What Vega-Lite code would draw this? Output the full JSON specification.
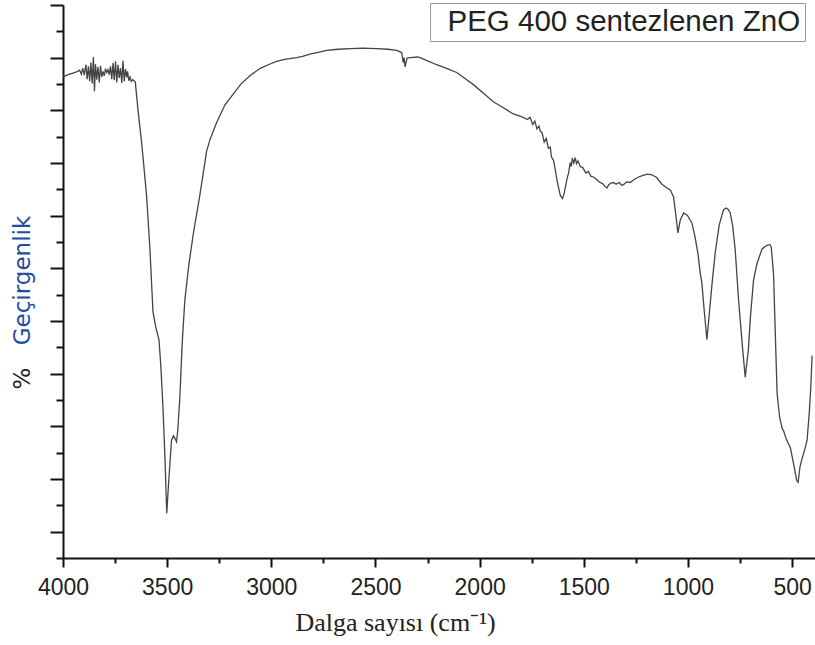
{
  "$schema": "https://vega.github.io/schema/vega-lite/v6.json",
  "autosize": {"type": "none"},
  "padding": {"left": 63, "top": 5, "right": 0, "bottom": 87},
  "width": 752,
  "height": 553,
  "background": "white",
  "config": {"view": {"stroke": null}},
  "data": {
    "values": [
      {"wn": 4000, "t": 87.0}, {"wn": 3975, "t": 87.4}, {"wn": 3952, "t": 87.7}, {"wn": 3935, "t": 87.9},
      {"wn": 3920, "t": 88.2}, {"wn": 3912, "t": 87.5}, {"wn": 3905, "t": 88.6}, {"wn": 3898, "t": 87.3},
      {"wn": 3890, "t": 89.2}, {"wn": 3884, "t": 86.6}, {"wn": 3878, "t": 88.9}, {"wn": 3872, "t": 86.2},
      {"wn": 3866, "t": 89.6}, {"wn": 3860, "t": 85.8}, {"wn": 3854, "t": 90.6}, {"wn": 3849, "t": 84.4},
      {"wn": 3844, "t": 89.3}, {"wn": 3838, "t": 86.5}, {"wn": 3832, "t": 88.8}, {"wn": 3826, "t": 86.0},
      {"wn": 3820, "t": 89.0}, {"wn": 3814, "t": 87.0}, {"wn": 3808, "t": 88.0}, {"wn": 3802, "t": 87.2},
      {"wn": 3796, "t": 88.5}, {"wn": 3790, "t": 87.8}, {"wn": 3784, "t": 88.3}, {"wn": 3778, "t": 87.4},
      {"wn": 3772, "t": 88.9}, {"wn": 3766, "t": 86.6}, {"wn": 3760, "t": 89.5}, {"wn": 3754, "t": 86.4},
      {"wn": 3748, "t": 89.8}, {"wn": 3742, "t": 86.0}, {"wn": 3736, "t": 89.2}, {"wn": 3730, "t": 86.8},
      {"wn": 3724, "t": 88.6}, {"wn": 3718, "t": 85.9}, {"wn": 3712, "t": 89.9}, {"wn": 3706, "t": 86.2},
      {"wn": 3700, "t": 88.4}, {"wn": 3694, "t": 86.9}, {"wn": 3690, "t": 88.0}, {"wn": 3684, "t": 86.3},
      {"wn": 3678, "t": 87.0}, {"wn": 3672, "t": 86.2}, {"wn": 3665, "t": 86.5}, {"wn": 3653, "t": 86.1},
      {"wn": 3640, "t": 81.0}, {"wn": 3623, "t": 75.3}, {"wn": 3611, "t": 70.5}, {"wn": 3599, "t": 65.6},
      {"wn": 3583, "t": 56.1}, {"wn": 3568, "t": 44.5}, {"wn": 3555, "t": 41.8}, {"wn": 3539, "t": 39.4},
      {"wn": 3530, "t": 34.5}, {"wn": 3520, "t": 27.2}, {"wn": 3510, "t": 17.5}, {"wn": 3502, "t": 8.1},
      {"wn": 3492, "t": 14.1}, {"wn": 3479, "t": 21.3}, {"wn": 3470, "t": 22.1}, {"wn": 3462, "t": 21.6},
      {"wn": 3455, "t": 21.0}, {"wn": 3449, "t": 23.1}, {"wn": 3439, "t": 29.1}, {"wn": 3427, "t": 39.4},
      {"wn": 3415, "t": 46.7}, {"wn": 3396, "t": 53.0}, {"wn": 3375, "t": 58.5}, {"wn": 3343, "t": 65.6},
      {"wn": 3311, "t": 73.5}, {"wn": 3295, "t": 75.6}, {"wn": 3263, "t": 78.7}, {"wn": 3223, "t": 81.9},
      {"wn": 3183, "t": 83.9}, {"wn": 3146, "t": 85.7}, {"wn": 3103, "t": 87.2}, {"wn": 3055, "t": 88.5},
      {"wn": 3015, "t": 89.2}, {"wn": 2975, "t": 89.8}, {"wn": 2930, "t": 90.2}, {"wn": 2879, "t": 90.5},
      {"wn": 2850, "t": 90.7}, {"wn": 2815, "t": 91.1}, {"wn": 2780, "t": 91.4}, {"wn": 2734, "t": 91.8},
      {"wn": 2680, "t": 92.0}, {"wn": 2622, "t": 92.1}, {"wn": 2560, "t": 92.2}, {"wn": 2494, "t": 92.1},
      {"wn": 2440, "t": 92.0}, {"wn": 2398, "t": 91.8}, {"wn": 2374, "t": 91.4}, {"wn": 2367, "t": 89.6},
      {"wn": 2362, "t": 90.5}, {"wn": 2358, "t": 88.8}, {"wn": 2348, "t": 90.4}, {"wn": 2330, "t": 90.5},
      {"wn": 2300, "t": 90.6}, {"wn": 2286, "t": 90.5}, {"wn": 2250, "t": 89.9}, {"wn": 2206, "t": 89.2},
      {"wn": 2190, "t": 89.0}, {"wn": 2150, "t": 88.4}, {"wn": 2110, "t": 87.8}, {"wn": 2070, "t": 86.7},
      {"wn": 2030, "t": 85.6}, {"wn": 1980, "t": 84.0}, {"wn": 1934, "t": 82.5}, {"wn": 1890, "t": 81.5},
      {"wn": 1838, "t": 80.3}, {"wn": 1800, "t": 79.8}, {"wn": 1770, "t": 79.3}, {"wn": 1758, "t": 79.7},
      {"wn": 1745, "t": 78.4}, {"wn": 1735, "t": 79.0}, {"wn": 1725, "t": 77.6}, {"wn": 1715, "t": 78.1},
      {"wn": 1709, "t": 77.2}, {"wn": 1700, "t": 76.9}, {"wn": 1690, "t": 75.2}, {"wn": 1680, "t": 75.9},
      {"wn": 1670, "t": 74.1}, {"wn": 1661, "t": 74.3}, {"wn": 1655, "t": 72.5}, {"wn": 1646, "t": 72.0},
      {"wn": 1638, "t": 70.5}, {"wn": 1629, "t": 68.4}, {"wn": 1620, "t": 66.8}, {"wn": 1613, "t": 65.6},
      {"wn": 1602, "t": 65.0}, {"wn": 1595, "t": 65.8}, {"wn": 1589, "t": 66.9}, {"wn": 1580, "t": 68.7},
      {"wn": 1573, "t": 69.6}, {"wn": 1565, "t": 71.5}, {"wn": 1560, "t": 70.8}, {"wn": 1555, "t": 72.3},
      {"wn": 1548, "t": 71.4}, {"wn": 1541, "t": 72.4}, {"wn": 1535, "t": 71.3}, {"wn": 1528, "t": 71.8},
      {"wn": 1517, "t": 70.8}, {"wn": 1505, "t": 70.6}, {"wn": 1490, "t": 69.6}, {"wn": 1478, "t": 69.9},
      {"wn": 1465, "t": 69.0}, {"wn": 1453, "t": 68.9}, {"wn": 1440, "t": 68.5}, {"wn": 1425, "t": 68.0},
      {"wn": 1410, "t": 67.7}, {"wn": 1398, "t": 67.2}, {"wn": 1389, "t": 66.9}, {"wn": 1380, "t": 67.5},
      {"wn": 1370, "t": 67.8}, {"wn": 1357, "t": 67.9}, {"wn": 1345, "t": 67.6}, {"wn": 1330, "t": 67.9},
      {"wn": 1318, "t": 67.4}, {"wn": 1309, "t": 67.5}, {"wn": 1295, "t": 68.0}, {"wn": 1277, "t": 67.9},
      {"wn": 1260, "t": 68.4}, {"wn": 1237, "t": 68.9}, {"wn": 1215, "t": 69.2}, {"wn": 1195, "t": 69.4},
      {"wn": 1173, "t": 69.3}, {"wn": 1150, "t": 68.8}, {"wn": 1125, "t": 67.6}, {"wn": 1100, "t": 66.9},
      {"wn": 1084, "t": 66.5}, {"wn": 1069, "t": 65.3}, {"wn": 1058, "t": 62.0}, {"wn": 1048, "t": 58.8},
      {"wn": 1037, "t": 61.1}, {"wn": 1021, "t": 62.4}, {"wn": 1003, "t": 62.0}, {"wn": 981, "t": 60.6},
      {"wn": 965, "t": 57.9}, {"wn": 951, "t": 54.8}, {"wn": 941, "t": 51.5}, {"wn": 933, "t": 49.7},
      {"wn": 922, "t": 44.8}, {"wn": 909, "t": 39.5}, {"wn": 898, "t": 43.9}, {"wn": 884, "t": 49.7},
      {"wn": 869, "t": 55.2}, {"wn": 850, "t": 60.2}, {"wn": 829, "t": 63.0}, {"wn": 816, "t": 63.3},
      {"wn": 805, "t": 63.0}, {"wn": 797, "t": 62.4}, {"wn": 785, "t": 60.0}, {"wn": 773, "t": 55.7},
      {"wn": 757, "t": 46.7}, {"wn": 739, "t": 38.5}, {"wn": 725, "t": 32.7}, {"wn": 710, "t": 37.6},
      {"wn": 700, "t": 43.6}, {"wn": 685, "t": 50.3}, {"wn": 668, "t": 53.3}, {"wn": 644, "t": 55.9},
      {"wn": 623, "t": 56.5}, {"wn": 607, "t": 56.7}, {"wn": 600, "t": 56.2}, {"wn": 589, "t": 51.3},
      {"wn": 581, "t": 41.2}, {"wn": 572, "t": 29.8}, {"wn": 560, "t": 25.5}, {"wn": 548, "t": 23.5},
      {"wn": 540, "t": 22.9}, {"wn": 528, "t": 21.5}, {"wn": 508, "t": 19.9}, {"wn": 490, "t": 16.5},
      {"wn": 478, "t": 14.0}, {"wn": 471, "t": 13.7}, {"wn": 462, "t": 16.5}, {"wn": 452, "t": 18.0},
      {"wn": 440, "t": 19.5}, {"wn": 428, "t": 21.3}, {"wn": 418, "t": 26.0}, {"wn": 410, "t": 31.0},
      {"wn": 404, "t": 36.6}
    ]
  },
  "layer": [
    {
      "mark": {"type": "line", "strokeWidth": 1.3},
      "encoding": {
        "x": {
          "field": "wn", "type": "quantitative",
          "scale": {"domain": [390, 4000], "reverse": true, "nice": false, "zero": false},
          "axis": {
            "orient": "bottom",
            "values": [4000, 3500, 3000, 2500, 2000, 1500, 1000, 500],
            "format": "d",
            "grid": false,
            "tickSize": 9, "tickWidth": 2, "tickColor": "#111",
            "domainWidth": 2, "domainColor": "#111",
            "labelFont": "Liberation Sans", "labelFontSize": 23, "labelColor": "#222",
            "labelPadding": 9, "labelOverlap": false, "labelFlush": false,
            "title": "Dalga sayısı (cm⁻¹)",
            "titleFont": "Liberation Serif", "titleFontSize": 26, "titleFontWeight": "normal", "titleColor": "#222",
            "titleX": 332, "titleY": 72, "titleAlign": "center", "titleBaseline": "alphabetic"
          }
        },
        "y": {
          "field": "t", "type": "quantitative",
          "scale": {"domain": [0, 100], "nice": false, "zero": false},
          "axis": {
            "orient": "left",
            "values": [100, 90.476, 80.952, 71.429, 61.905, 52.381, 42.857, 33.333, 23.81, 14.286, 4.762],
            "grid": false, "labels": false,
            "tickSize": 13, "tickWidth": 2, "tickColor": "#111",
            "domainWidth": 2, "domainColor": "#111",
            "title": "Geçirgenlik",
            "titleFont": "DejaVu Sans", "titleFontSize": 23, "titleFontWeight": "normal", "titleColor": "#1f4ea0",
            "titleAngle": 270, "titleX": -41, "titleY": 275, "titleAlign": "center", "titleBaseline": "middle"
          }
        },
        "stroke": {
          "datum": "PEG 400 sentezlenen ZnO", "type": "nominal",
          "scale": {"range": ["#444444"]},
          "legend": {
            "orient": "none", "legendX": 367, "legendY": -2,
            "title": null,
            "fillColor": "white", "strokeColor": "#999999", "padding": 4,
            "symbolType": "circle", "symbolSize": 1, "symbolOpacity": 0, "symbolStrokeWidth": 0,
            "labelOffset": -16, "labelLimit": 800,
            "labelExpr": "datum.label + ' '",
            "labelFont": "Liberation Sans", "labelFontSize": 29.5, "labelColor": "#222"
          }
        }
      }
    },
    {
      "mark": {"type": "point", "opacity": 0, "size": 1},
      "encoding": {
        "x": {
          "field": "wn", "type": "quantitative",
          "axis": {
            "orient": "bottom",
            "values": [3750, 3250, 2750, 2250, 1750, 1250, 750],
            "grid": false, "labels": false, "domain": false,
            "tickSize": 5, "tickWidth": 2, "tickColor": "#111",
            "title": null
          }
        },
        "y": {
          "field": "t", "type": "quantitative",
          "axis": {
            "orient": "left",
            "values": [95.238, 85.714, 76.19, 66.667, 57.143, 47.619, 38.095, 28.571, 19.048, 9.524, 0],
            "grid": false, "labels": false, "domain": false,
            "tickSize": 7, "tickWidth": 2, "tickColor": "#111",
            "title": "%",
            "titleFont": "DejaVu Sans", "titleFontSize": 23, "titleFontWeight": "normal", "titleColor": "#222",
            "titleAngle": 270, "titleX": -41, "titleY": 373, "titleAlign": "center", "titleBaseline": "middle"
          }
        }
      }
    }
  ],
  "resolve": {"axis": {"x": "independent", "y": "independent"}}
}
